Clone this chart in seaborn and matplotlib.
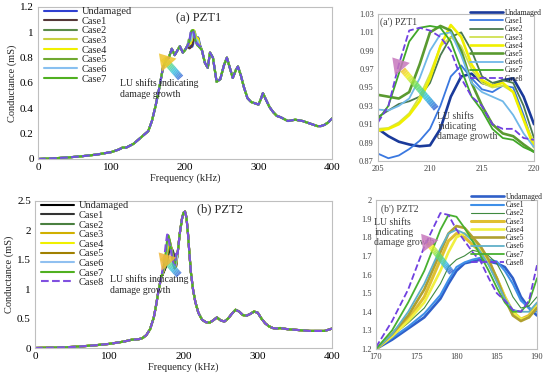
import numpy as np
import matplotlib
matplotlib.use('Agg')
import matplotlib.pyplot as plt
from matplotlib.colors import LinearSegmentedColormap
import seaborn as sns

# ---- data ----
LABELS = ["Undamaged", "Case1", "Case2", "Case3", "Case4", "Case5", "Case6", "Case7", "Case8"]

# PZT1 full spectrum (outside the zoom window 205-220 kHz)
FREQ_A_LO = [0, 20, 40, 60, 80, 100, 110, 115, 120, 130, 140, 150, 155, 160, 165, 170, 175, 178, 182, 186, 190, 193, 197, 200, 203]
G_A_LO = [0.0, 0.005, 0.012, 0.022, 0.035, 0.055, 0.075, 0.09, 0.09, 0.12, 0.17, 0.22, 0.30, 0.42, 0.56, 0.72, 0.79, 0.80, 0.87, 0.82, 0.86, 0.89, 0.84, 0.86, 0.89]
FREQ_A_HI = [223, 227, 231, 234, 238, 243, 248, 253, 257, 261, 265, 269, 272, 276, 280, 285, 290, 295, 300, 303, 306, 310, 315, 320, 325, 330, 340, 350, 360, 370, 380, 385, 390, 395, 400]
G_A_HI = [0.86, 0.76, 0.72, 0.84, 0.80, 0.61, 0.63, 0.74, 0.80, 0.72, 0.64, 0.70, 0.73, 0.66, 0.57, 0.48, 0.45, 0.44, 0.43, 0.47, 0.52, 0.47, 0.41, 0.37, 0.34, 0.33, 0.30, 0.31, 0.30, 0.28, 0.26, 0.26, 0.27, 0.29, 0.32]

# PZT1 zoom window
FREQ_AZ = [205, 206, 207, 208, 209, 210, 211, 212, 213, 214, 215, 216, 217, 218, 219, 220]
G_AZ = {
    "Undamaged": [0.905, 0.897, 0.891, 0.888, 0.886, 0.887, 0.905, 0.940, 0.962, 0.965, 0.955, 0.952, 0.958, 0.960, 0.940, 0.910],
    "Case1": [0.878, 0.873, 0.876, 0.883, 0.892, 0.905, 0.930, 0.962, 0.974, 0.960, 0.948, 0.945, 0.952, 0.950, 0.920, 0.885],
    "Case2": [0.918, 0.925, 0.932, 0.935, 0.940, 0.955, 0.985, 1.005, 1.010, 0.990, 0.962, 0.955, 0.958, 0.955, 0.930, 0.895],
    "Case3": [0.905, 0.906, 0.912, 0.922, 0.940, 0.965, 0.995, 1.005, 0.995, 0.970, 0.955, 0.950, 0.952, 0.945, 0.915, 0.890],
    "Case4": [0.903, 0.905, 0.910, 0.920, 0.935, 0.960, 0.995, 1.018, 1.005, 0.975, 0.958, 0.952, 0.955, 0.945, 0.915, 0.885],
    "Case5": [0.942, 0.940, 0.938, 0.945, 0.975, 1.010, 1.017, 1.012, 0.990, 0.955, 0.930, 0.910, 0.900, 0.897, 0.888, 0.880],
    "Case6": [0.926, 0.925, 0.930, 0.938, 0.960, 0.990, 1.008, 1.010, 0.985, 0.955, 0.945, 0.940, 0.935, 0.920, 0.900, 0.885],
    "Case7": [0.915, 0.930, 0.965, 1.000, 1.015, 1.017, 1.015, 1.000, 0.970, 0.940, 0.925, 0.905, 0.895, 0.893, 0.885, 0.880],
    "Case8": [0.912, 0.930, 0.975, 1.012, 1.015, 1.012, 1.005, 0.990, 0.960, 0.940, 0.930, 0.910, 0.905, 0.905, 0.895, 0.893],
}

# PZT2 full spectrum (outside the zoom window 170-190 kHz)
FREQ_B_LO = [0, 20, 40, 60, 80, 100, 110, 120, 130, 140, 145, 150, 155, 160, 163, 166, 168]
G_B_LO = [0.0, 0.005, 0.012, 0.025, 0.045, 0.07, 0.09, 0.11, 0.14, 0.15, 0.17, 0.22, 0.32, 0.52, 0.72, 0.95, 1.08]
FREQ_B_HI = [192, 195, 198, 200, 202, 204, 206, 208, 210, 213, 216, 220, 225, 230, 235, 240, 245, 250, 255, 260, 265, 270, 275, 280, 285, 290, 295, 300, 305, 310, 315, 320, 325, 330, 340, 350, 360, 370, 380, 390, 400]
G_B_HI = [1.60, 1.95, 2.20, 2.30, 2.32, 2.22, 1.95, 1.60, 1.28, 0.98, 0.78, 0.60, 0.48, 0.44, 0.43, 0.47, 0.52, 0.47, 0.45, 0.50, 0.58, 0.65, 0.62, 0.56, 0.55, 0.58, 0.62, 0.60, 0.50, 0.42, 0.37, 0.34, 0.33, 0.34, 0.32, 0.31, 0.30, 0.29, 0.29, 0.29, 0.33]

# PZT2 zoom window
FREQ_BZ = [170, 172, 174, 176, 178, 179, 180, 181, 182, 183, 184, 185, 186, 187, 188, 189, 190]
G_BZ = {
    "Undamaged": [1.20, 1.25, 1.31, 1.37, 1.47, 1.55, 1.62, 1.66, 1.67, 1.68, 1.67, 1.66, 1.64, 1.58, 1.48, 1.42, 1.38],
    "Case1": [1.20, 1.26, 1.32, 1.39, 1.49, 1.57, 1.64, 1.665, 1.68, 1.69, 1.68, 1.67, 1.62, 1.55, 1.46, 1.42, 1.40],
    "Case2": [1.20, 1.27, 1.34, 1.42, 1.55, 1.64, 1.68, 1.70, 1.73, 1.72, 1.70, 1.66, 1.58, 1.48, 1.42, 1.43, 1.48],
    "Case3": [1.20, 1.27, 1.36, 1.48, 1.68, 1.78, 1.82, 1.80, 1.76, 1.72, 1.66, 1.58, 1.48, 1.40, 1.36, 1.38, 1.44],
    "Case4": [1.20, 1.27, 1.35, 1.45, 1.62, 1.72, 1.80, 1.82, 1.79, 1.74, 1.67, 1.58, 1.48, 1.40, 1.36, 1.37, 1.43],
    "Case5": [1.20, 1.28, 1.38, 1.52, 1.72, 1.82, 1.86, 1.85, 1.80, 1.75, 1.68, 1.58, 1.47, 1.38, 1.35, 1.37, 1.42],
    "Case6": [1.20, 1.28, 1.40, 1.55, 1.74, 1.82, 1.84, 1.82, 1.78, 1.72, 1.65, 1.56, 1.47, 1.41, 1.40, 1.40, 1.45],
    "Case7": [1.20, 1.30, 1.45, 1.62, 1.84, 1.92, 1.91, 1.85, 1.78, 1.70, 1.62, 1.53, 1.45, 1.40, 1.40, 1.45, 1.58],
    "Case8": [1.21, 1.35, 1.52, 1.75, 1.93, 1.92, 1.84, 1.78, 1.72, 1.67, 1.58, 1.50, 1.46, 1.41, 1.40, 1.46, 1.65],
}

# ---- styles ----
COLORS_A = ["#3040d0", "#553838", "#5a8a4a", "#c8d040", "#f0f000", "#70a830", "#88c0f0", "#50b020", "#7050e0"]
COLORS_B = ["#000000", "#333333", "#4a8040", "#d0b000", "#f0f000", "#a08000", "#90c0f0", "#50b020", "#8050e0"]
COLORS_AZ = ["#1a3a9a", "#3a78e0", "#4a7a50", "#d0e050", "#f0f000", "#5a9a30", "#70b8e8", "#40a828", "#7040e0"]
LW_AZ = [1.9, 1.3, 1.3, 1.3, 1.9, 1.9, 1.3, 1.3, 1.3]
COLORS_BZ = ["#2f5fc8", "#3f8fe8", "#3f8a3f", "#e0c030", "#f0f040", "#b0a030", "#60b0c8", "#48b030", "#7040e0"]
LW_BZ = [1.9, 1.5, 0.8, 2.2, 1.9, 1.9, 1.3, 1.3, 1.3]

sns.set_style("white")
plt.rcParams['font.family'] = ['Liberation Serif', 'DejaVu Serif']


def grad_arrow(ax, tail, head, tip_colors, lw=5, n=30, head_scale=14):
    cmap = LinearSegmentedColormap.from_list(
        "lu", ["#3a6ad8", "#30c0e0", "#60e060", "#f0f020"] + tip_colors)
    xs = np.linspace(tail[0], head[0], n + 1)
    ys = np.linspace(tail[1], head[1], n + 1)
    stop = int(n * 0.75)
    for i in range(stop):
        ax.plot(xs[i:i + 2], ys[i:i + 2], color=cmap(i / n), lw=lw,
                solid_capstyle='butt', alpha=0.85, zorder=20)
    ax.annotate('', xy=head, xytext=(xs[stop - 1], ys[stop - 1]),
                arrowprops=dict(arrowstyle='-|>,head_width=0.5,head_length=0.8',
                                mutation_scale=head_scale, color=cmap(0.97),
                                lw=0, alpha=0.85), zorder=21)


def style_frame(ax, tick_color='black', size=8):
    for s in ax.spines.values():
        s.set_color('#bfbfbf')
        s.set_linewidth(0.8)
    ax.tick_params(length=0, labelsize=size, colors=tick_color, pad=3)


fig = plt.figure(figsize=(5.5, 3.79), dpi=100)
W, H = 550, 379


def add_axes(l, r, t, b):
    return fig.add_axes([l / W, 1 - b / H, (r - l) / W, (b - t) / H])


ax_a = add_axes(38, 332, 7, 159)
ax_b = add_axes(35, 332, 201, 348)
ax_az = add_axes(378, 534, 14, 161)
ax_bz = add_axes(376, 537, 200, 349)

# full spectra
for i, lab in enumerate(LABELS):
    ls = '--' if lab == "Case8" else '-'
    xa = np.array(FREQ_A_LO + FREQ_AZ + FREQ_A_HI)
    ya = np.array(G_A_LO + G_AZ[lab] + G_A_HI)
    sns.lineplot(x=xa, y=ya, ax=ax_a, color=COLORS_A[i], lw=1.5, linestyle=ls, label=lab)
    xb = np.array(FREQ_B_LO + FREQ_BZ + FREQ_B_HI)
    yb = np.array(G_B_LO + G_BZ[lab] + G_B_HI)
    sns.lineplot(x=xb, y=yb, ax=ax_b, color=COLORS_B[i], lw=1.5, linestyle=ls, label=lab)
    sns.lineplot(x=np.array(FREQ_AZ), y=np.array(G_AZ[lab]), ax=ax_az, color=COLORS_AZ[i],
                 lw=LW_AZ[i], linestyle=ls, label=lab)
    sns.lineplot(x=np.array(FREQ_BZ), y=np.array(G_BZ[lab]), ax=ax_bz, color=COLORS_BZ[i],
                 lw=LW_BZ[i], linestyle=ls, label=lab)

# panel (a)
ax_a.set_xlim(0, 400)
ax_a.set_ylim(0, 1.2)
ax_a.set_xticks([0, 100, 200, 300, 400])
ax_a.set_yticks([0, 0.2, 0.4, 0.6, 0.8, 1, 1.2])
ax_a.set_yticklabels(["0", "0.2", "0.4", "0.6", "0.8", "1", "1.2"])
ax_a.set_xlabel("Frequency (kHz)", fontsize=7.5, labelpad=1)
ax_a.set_ylabel("Conductance (mS)", fontsize=7.5, labelpad=2)
style_frame(ax_a)
h, l = ax_a.get_legend_handles_labels()
ax_a.legend(h[:8], l[:8], loc='upper left', bbox_to_anchor=(0.02, 1.0), frameon=False,
            fontsize=7.5, handlelength=3.2, handletextpad=0.4, labelspacing=0.03,
            borderpad=0, borderaxespad=0)
ax_a.text(0.47, 0.925, "(a) PZT1", transform=ax_a.transAxes, fontsize=9, va='center')
ax_a.text(111, 0.635, "LU shifts indicating\ndamage growth", fontsize=7, linespacing=1.3,
          va='top')
grad_arrow(ax_a, (194, 0.64), (162, 0.85), ["#f0c030"])

# panel (b)
ax_b.set_xlim(0, 400)
ax_b.set_ylim(0, 2.5)
ax_b.set_xticks([0, 100, 200, 300, 400])
ax_b.set_yticks([0, 0.5, 1, 1.5, 2, 2.5])
ax_b.set_yticklabels(["0", "0.5", "1", "1.5", "2", "2.5"])
ax_b.set_xlabel("Frequency (kHz)", fontsize=7.5, labelpad=1)
ax_b.set_ylabel("Conductance (mS)", fontsize=7.5, labelpad=2)
style_frame(ax_b)
h, l = ax_b.get_legend_handles_labels()
ax_b.legend(h, l, loc='upper left', bbox_to_anchor=(0.02, 1.0), frameon=False,
            fontsize=7.5, handlelength=3.2, handletextpad=0.4, labelspacing=0.03,
            borderpad=0, borderaxespad=0)
ax_b.text(0.545, 0.945, "(b) PZT2", transform=ax_b.transAxes, fontsize=9, va='center')
ax_b.text(101, 1.26, "LU shifts indicating\ndamage growth", fontsize=7, linespacing=1.3,
          va='top')
grad_arrow(ax_b, (194, 1.24), (164, 1.66), ["#f0b040"])

# panel (a')
ax_az.set_xlim(205, 220)
ax_az.set_ylim(0.87, 1.03)
ax_az.set_xticks([205, 210, 215, 220])
ax_az.set_yticks(np.round(np.arange(0.87, 1.031, 0.02), 2))
style_frame(ax_az, tick_color='#404040', size=6)
h, l = ax_az.get_legend_handles_labels()
ax_az.legend(h, l, loc='upper left', bbox_to_anchor=(0.59, 1.035), frameon=False,
             fontsize=5.5, handlelength=4.3, handletextpad=0.3, labelspacing=0.03,
             borderpad=0, borderaxespad=0)
ax_az.text(0.01, 0.98, "(a') PZT1", transform=ax_az.transAxes, fontsize=7, va='top',
           color='#404040')
ax_az.text(210.7, 0.923, "LU shifts\nindicating\ndamage growth", fontsize=7,
           linespacing=1.15, va='top', color='#404040')
grad_arrow(ax_az, (210.6, 0.927), (206.2, 0.985), ["#f0a040", "#c070d0"], lw=4.5)

# panel (b')
ax_bz.set_xlim(170, 190)
ax_bz.set_ylim(1.2, 2.0)
ax_bz.set_xticks([170, 175, 180, 185, 190])
ax_bz.set_yticks([1.2, 1.3, 1.4, 1.5, 1.6, 1.7, 1.8, 1.9, 2.0])
ax_bz.set_yticklabels(["1.2", "1.3", "1.4", "1.5", "1.6", "1.7", "1.8", "1.9", "2"])
style_frame(ax_bz, tick_color='#404040', size=6)
h, l = ax_bz.get_legend_handles_labels()
ax_bz.legend(h, l, loc='upper left', bbox_to_anchor=(0.59, 1.047), frameon=False,
             fontsize=5.5, handlelength=4.3, handletextpad=0.3, labelspacing=0.03,
             borderpad=0, borderaxespad=0)
ax_bz.text(0.03, 0.97, "(b') PZT2", transform=ax_bz.transAxes, fontsize=7, va='top',
           color='#404040')
ax_bz.text(169.8, 1.905, "LU shifts\nindicating\ndamage growth", fontsize=7,
           linespacing=1.15, va='top', color='#404040')
grad_arrow(ax_bz, (179.4, 1.61), (175.4, 1.83), ["#f0a040", "#c070d0"], lw=4.5)

fig.savefig("out.png", dpi=100)
